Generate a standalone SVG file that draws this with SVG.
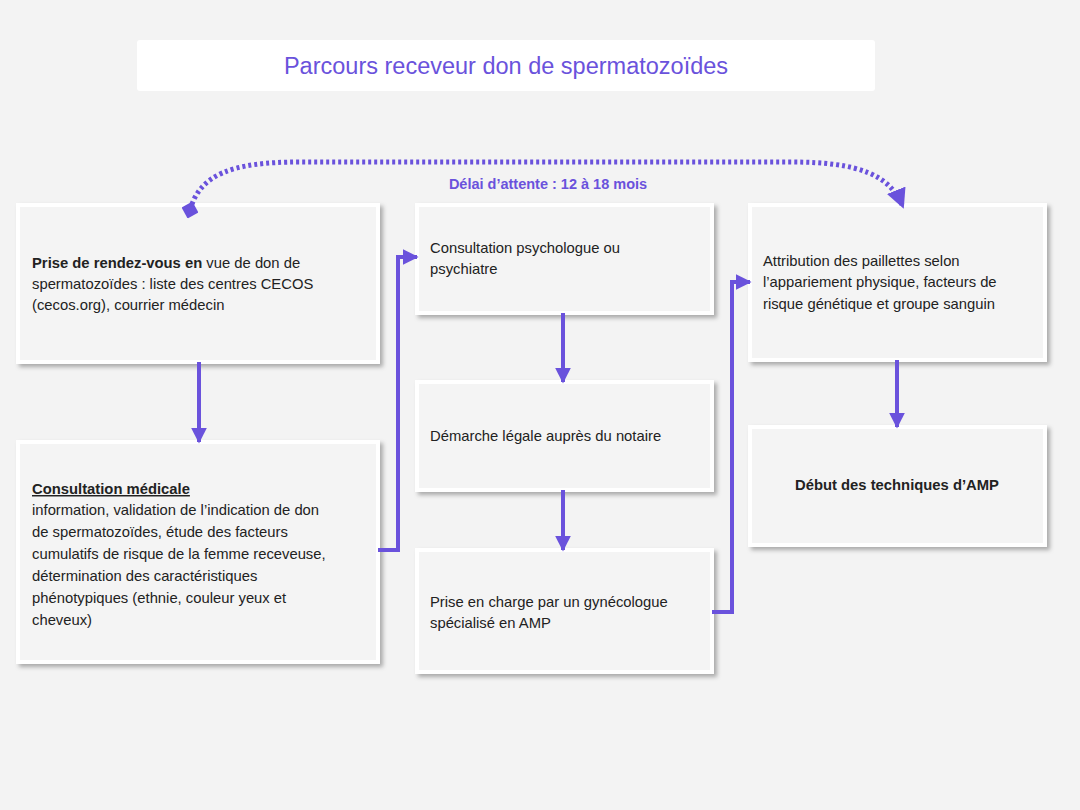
<svg xmlns="http://www.w3.org/2000/svg" width="1080" height="810" viewBox="0 0 1080 810">
<defs>
<filter id="sh" x="-10%" y="-10%" width="130%" height="130%"><feDropShadow dx="3" dy="3" stdDeviation="2" flood-color="#000" flood-opacity="0.3"/></filter>
<marker id="ar" viewBox="0 0 10 10" refX="9" refY="5" markerWidth="4" markerHeight="4" orient="auto"><path d="M0,0L10,5L0,10z" fill="#6a52dc"/></marker>
<marker id="dm" viewBox="0 0 10 10" refX="5" refY="5" markerWidth="3.5" markerHeight="3.5" orient="auto"><path d="M0,5L5,0L10,5L5,10z" fill="#6a52dc"/></marker>
</defs>
<style>
.b{fill:#f4f4f4;stroke:#fff;stroke-width:4;filter:url(#sh)}
text{font-family:"Liberation Sans",Arial,sans-serif;font-size:14.8px;fill:#222}
.c{fill:none;stroke:#6a52dc;stroke-width:4;marker-end:url(#ar)}
</style>
<rect width="1080" height="810" fill="#f3f3f3"/>
<g id="title"><rect x="137" y="40" width="738" height="51" rx="3" fill="#fff"/><text x="506" y="74" text-anchor="middle" style="font-size:23.5px;fill:#6a52dc">Parcours receveur don de spermatozoïdes</text></g>
<g id="n1"><rect class="b" x="18" y="205" width="360" height="157"/><text x="32" y="268"><tspan font-weight="bold">Prise de rendez-vous  en</tspan> vue de don de</text><text x="32" y="289">spermatozoïdes : liste des centres CECOS</text><text x="32" y="310">(cecos.org), courrier médecin</text></g>
<g id="n2"><rect class="b" x="18" y="442" width="360" height="220"/><text x="32" y="494" font-weight="bold" text-decoration="underline">Consultation médicale</text><text x="32" y="515">information, validation de l’indication de don</text><text x="32" y="537">de spermatozoïdes, étude des facteurs</text><text x="32" y="559">cumulatifs de risque de la femme receveuse,</text><text x="32" y="581">détermination des caractéristiques</text><text x="32" y="603">phénotypiques (ethnie, couleur yeux et</text><text x="32" y="625">cheveux)</text></g>
<g id="n3"><rect class="b" x="417" y="205" width="295" height="108"/><text x="430" y="253">Consultation psychologue ou</text><text x="430" y="274">psychiatre</text></g>
<g id="n4"><rect class="b" x="417" y="382" width="295" height="108"/><text x="430" y="441">Démarche légale auprès du notaire</text></g>
<g id="n5"><rect class="b" x="417" y="550" width="295" height="122"/><text x="430" y="607">Prise en charge par un gynécologue</text><text x="430" y="628">spécialisé en AMP</text></g>
<g id="n6"><rect class="b" x="750" y="205" width="295" height="155"/><text x="763" y="266">Attribution des paillettes selon</text><text x="763" y="287">l’appariement physique, facteurs de</text><text x="763" y="309">risque génétique et groupe sanguin</text></g>
<g id="n7"><rect class="b" x="750" y="427" width="295" height="118"/><text x="897" y="490" text-anchor="middle" font-weight="bold">Début des techniques d’AMP</text></g>
<g id="connectors">
<path class="c" d="M199,362V442"/>
<path class="c" d="M378,550H398V257H417"/>
<path class="c" d="M563,313V382"/>
<path class="c" d="M563,490V550"/>
<path class="c" d="M712,612H732V282H750"/>
<path class="c" d="M897,360V427"/>
<path d="M190,210C200,175 230,162 300,162H790C860,162 890,175 903,207" fill="none" stroke="#6a52dc" stroke-width="5" stroke-dasharray="3,3" marker-start="url(#dm)" marker-end="url(#ar)"/>
<text x="548" y="189" text-anchor="middle" font-weight="bold" style="fill:#6a52dc;font-size:14.5px">Délai d’attente : 12 à 18 mois</text>
</g>
</svg>
